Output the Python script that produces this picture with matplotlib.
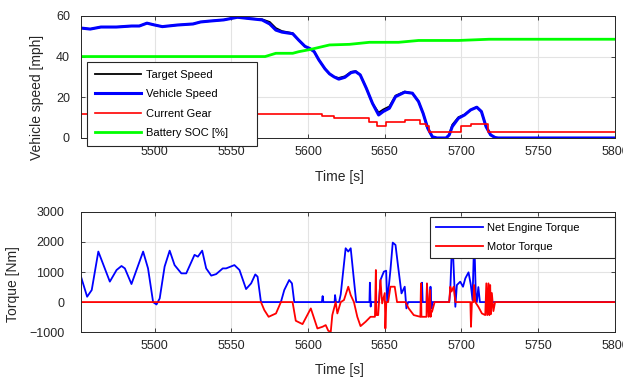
import matplotlib
matplotlib.use('Agg')
import matplotlib.pyplot as plt
from matplotlib.patches import Rectangle

plt.rcParams['font.family'] = ['Liberation Sans', 'DejaVu Sans']
plt.rcParams['font.size'] = 9

# ---- top panel data ----
speed_t = [5452, 5458, 5465, 5475, 5485, 5490, 5495, 5500, 5505, 5515, 5525, 5530, 5537,
           5545, 5554, 5560, 5566, 5570, 5575, 5579, 5583, 5590, 5594, 5598, 5601, 5604,
           5607, 5611, 5614, 5617, 5620, 5624, 5628, 5631, 5634, 5638, 5642, 5646, 5649,
           5653, 5657, 5663, 5668, 5672, 5675, 5678, 5681, 5684, 5690, 5692, 5694, 5698,
           5702, 5706, 5710, 5713, 5716, 5719, 5722, 5724, 5800]
vehicle_speed = [54, 53.5, 54.5, 54.5, 55, 55, 56.4, 55.5, 54.7, 55.5, 56, 57, 57.5,
                 58, 59.3, 58.8, 58.3, 58, 56, 53, 52, 51.2, 48, 45, 44, 42.4,
                 38.4, 34, 31.5, 30, 28.9, 29.8, 32.1, 32.6, 31, 24.4, 17, 11.3, 13,
                 14.6, 20.3, 22.5, 22, 17.9, 12.1, 4.8, 0.6, 0, 0, 1.5, 5.6, 9.7,
                 11.3, 13.8, 15.1, 13, 5.6, 1.5, 0.2, 0, 0]
target_speed = [54, 53.5, 54.5, 54.5, 55, 55, 56.4, 55.5, 54.7, 55.5, 56, 57, 57.5,
                58, 59.3, 58.8, 58.5, 58.3, 57, 54, 52.5, 51.5, 48, 45, 44, 42.4,
                38.4, 34, 31.5, 30, 29.5, 30.3, 32.5, 32.8, 31, 24.4, 17, 12.5, 14,
                15.5, 20.8, 22.8, 22, 17.9, 12.1, 4.8, 0.6, 0, 0, 1.5, 6.5, 10.2,
                11.5, 13.8, 15.3, 13, 5.6, 1.5, 0.2, 0, 0]

gear_t = [5452, 5609, 5617, 5640, 5645, 5651, 5663, 5673, 5677, 5679, 5700, 5706, 5717, 5800]
gear = [12, 11, 10, 8, 6, 8, 9, 7, 6, 3, 6, 7, 3, 3]

soc_t = [5452, 5572, 5579, 5590, 5594, 5601, 5614, 5627, 5640, 5659, 5672, 5698, 5718, 5800]
soc = [40, 40, 41.6, 41.6, 42.4, 43.4, 45.7, 46, 47, 47, 47.9, 47.9, 48.5, 48.5]

# ---- bottom panel data ----
eng_t = [5452, 5456, 5459, 5463.3, 5470.8, 5475.2, 5478.4, 5480.6, 5484.9, 5492.5, 5495.7,
         5499, 5501.2, 5503.3, 5506.5, 5509.8, 5513, 5517.4, 5520.6, 5526, 5528.2, 5531,
         5533.6, 5536.9, 5540.1, 5544.4, 5546.6, 5552, 5555.3, 5559.6, 5562.9, 5565.6,
         5567.1, 5569.3, 5582.3, 5584.5, 5587.7, 5589.5, 5591, 5609, 5609.5, 5610, 5617.3,
         5617.6, 5618.2, 5620.2, 5621.3, 5624.5, 5626.2, 5627.8, 5629.9, 5631.4, 5640,
         5640.3, 5640.8, 5641.2, 5646.2, 5647.2, 5649.4, 5650.9, 5651.6, 5653.7, 5655.2,
         5657, 5658.7, 5660.9, 5663, 5664.1, 5665.2, 5674, 5674.3, 5674.7, 5677.2, 5677.5,
         5677.9, 5679.5, 5679.8, 5680.4, 5681, 5692, 5692.7, 5694, 5696, 5697, 5699.2,
         5701, 5702.5, 5704.6, 5706.1, 5707.2, 5708.3, 5709.3, 5710, 5711, 5712, 5800]
eng_torque = [844, 178, 400, 1680, 680, 1067, 1200, 1120, 600, 1680, 1120,
              0, -80, 120, 1180, 1710, 1230, 955, 955, 1570, 1510, 1710,
              1120, 880, 930, 1120, 1120, 1230, 1067, 433, 622, 920,
              844, 0, 0, 400, 733, 622, 0, 0, 200, 0, 0,
              233, 0, 0, 260, 1790, 1680, 1790, 733, 0, 0,
              644, -150, 0, 0, 733, 1011, 1044, 0, 1067, 1978,
              1900, 1180, 289, 511, -211, 0, 0, 644, 0, 0, 600,
              0, 0, 511, -211, 0, 0, 400, 2200, -156, 567, 678,
              510, 789, 989, 567, 67, 2200, 300, 0, 500, 0, 0]

mot_t = [5452, 5569.3, 5571.5, 5574.3, 5579.1, 5582.3, 5589.9, 5592, 5596.4, 5601.8, 5606.1,
         5609.4, 5611.5, 5613.2, 5614.8, 5615.8, 5618, 5619.1, 5621.3, 5623.4, 5626.2,
         5627.8, 5629.9, 5632.1, 5634.2, 5637.5, 5640.7, 5643.6, 5644.2, 5644.6, 5645.7,
         5647.2, 5648.3, 5650, 5650.4, 5651, 5652.2, 5653.7, 5656.5, 5658, 5663.5, 5665.6,
         5668.9, 5673.2, 5673.6, 5673.9, 5674.7, 5677.2, 5677.5, 5678.6, 5679.5, 5679.9,
         5680.3, 5680.8, 5682.5, 5692, 5692.7, 5693.5, 5694.9, 5696, 5705.8, 5706.2,
         5706.8, 5707.8, 5708.2, 5709, 5711, 5713.3, 5715.5, 5716.2, 5716.8, 5717.6, 5718.2,
         5718.7, 5719.2, 5719.8, 5720.8, 5721.9, 5800]
mot_torque = [0, 0, -267, -490, -378, 0, 0, -622, -733, -211, -878,
              -822, -766, -955, -990, -433, 0, -378, 0, 67, 511,
              233, 0, -490, -800, -655, -490, -490, 1067, -433, -433,
              733, -44, 300, -878, 0, 0, 511, 511, 0, 0, -211,
              -433, -490, 622, -490, -490, -490, 622, -490, 400, -490,
              -322, -322, 0, 0, 511, 350, 511, 0, 0, -822,
              0, 0, 567, 0, -156, -378, -433, 622, -433, 622, -433,
              567, -400, 300, -300, 0, 0]

dark = '#262626'
fig = plt.figure(figsize=(6.23, 3.77), dpi=100)
ax1 = fig.add_axes([0.130, 0.634, 0.857, 0.324])
ax2 = fig.add_axes([0.130, 0.119, 0.857, 0.319])

ax1.plot(speed_t, target_speed, color='black', lw=1.3, label='Target Speed')
ax1.plot(speed_t, vehicle_speed, color='#0000ff', lw=2.2, label='Vehicle Speed')
ax1.step(gear_t, gear, where='post', color='#ff0000', lw=1.2, label='Current Gear')
ax1.plot(soc_t, soc, color='#00ff00', lw=2.0, label='Battery SOC [%]')
ax1.set_ylim(0, 60)
ax1.set_yticks([0, 20, 40, 60])
ax1.set_ylabel('Vehicle speed [mph]', color=dark, fontsize=10)
ax1.set_xlabel('Time [s]', color=dark, fontsize=10)
ax1.yaxis.set_label_coords(-0.069, 0.336)
ax1.xaxis.set_label_coords(0.485, -0.262)
ax1.tick_params(axis='y', pad=8)

ax2.plot(eng_t, eng_torque, color='#0000ff', lw=1.3, label='Net Engine Torque')
ax2.plot(mot_t, mot_torque, color='#ff0000', lw=1.3, label='Motor Torque')
ax2.set_ylim(-1000, 3000)
ax2.set_yticks([-1000, 0, 1000, 2000, 3000])
ax2.set_ylabel('Torque [Nm]', color=dark, fontsize=10)
ax2.set_xlabel('Time [s]', color=dark, fontsize=10)
ax2.yaxis.set_label_coords(-0.114, 0.4)
ax2.xaxis.set_label_coords(0.485, -0.258)
ax2.tick_params(axis='y', pad=12)

for ax in (ax1, ax2):
    ax.set_xlim(5452, 5800)
    ax.set_xticks([5500, 5550, 5600, 5650, 5700, 5750, 5800])
    ax.grid(True, color='#e3e3e3', lw=0.8)
    ax.set_axisbelow(True)
    ax.tick_params(direction='in', top=True, right=True, colors=dark, labelcolor=dark,
                   length=3, width=0.6)
    ax.tick_params(axis='x', pad=6)
    for s in ax.spines.values():
        s.set_color(dark)
        s.set_linewidth(0.7)

leg1 = ax1.legend(loc='lower left', bbox_to_anchor=(87 / 623, 1 - 146 / 377, 170 / 623, 83 / 377),
                  bbox_transform=fig.transFigure, mode='expand',
                  fancybox=False, edgecolor=dark, framealpha=1, handlelength=4.2,
                  handletextpad=0.4, labelspacing=0.85, borderpad=0.7, borderaxespad=0,
                  fontsize=8)
leg1.get_frame().set_linewidth(0.8)
leg1.set_zorder(5)
leg2 = ax2.legend(loc='upper right', bbox_to_anchor=(430 / 623, 1 - 261 / 377, 185 / 623, 44 / 377),
                  bbox_transform=fig.transFigure, mode='expand',
                  fancybox=False, edgecolor=dark, framealpha=1, handlelength=4.2,
                  handletextpad=0.4, labelspacing=0.8, borderpad=0.55, borderaxespad=0,
                  fontsize=8)
leg2.get_frame().set_linewidth(0.8)

# clipped remnant of a tick label under the upper plot
fig.text(51 / 623, 1 - 183 / 377, '3000', ha='center', va='center', color=dark, fontsize=9)
fig.patches.append(Rectangle((25 / 623, 1 - 185.5 / 377), 60 / 623, 15 / 377,
                             transform=fig.transFigure, facecolor='white', edgecolor='none',
                             zorder=10))

fig.savefig('out.png', dpi=100)
